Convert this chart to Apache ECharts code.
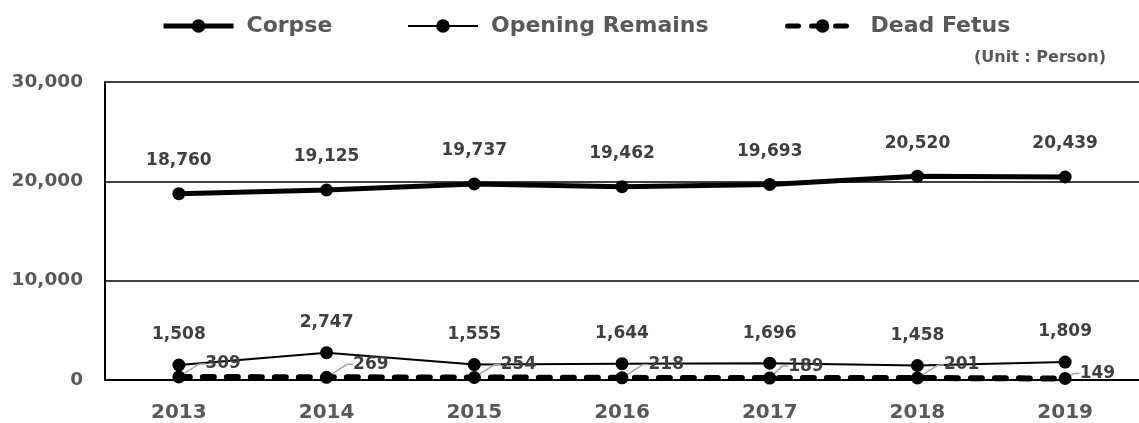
<!DOCTYPE html>
<html><head><meta charset="utf-8">
<script src="https://cdn.jsdelivr.net/npm/echarts@6/dist/echarts.min.js"></script>
<style>html,body{margin:0;padding:0;background:#fff}#c{width:1139px;height:423px}</style>
</head><body><div id="c"></div>
<script>
const years = ['2013','2014','2015','2016','2017','2018','2019'];
const corpse = [18760,19125,19737,19462,19693,20520,20439];
const opening = [1508,2747,1555,1644,1696,1458,1809];
const fetus = [309,269,254,218,189,201,149];
const yTicks = [0,10000,20000,30000];

const FONT = '"DejaVu Sans",sans-serif';
const fmt = v => v.toLocaleString('en-US');
const chart = echarts.init(document.getElementById('c'));
const lblTop = {show:true, position:'top', distance:18, color:'#404040', fontFamily:FONT, fontWeight:'bold', fontSize:17, formatter:p=>fmt(p.value)};
function lg(name, left, width) {
  return {data:[name], left:left, top:10, itemWidth:70, itemHeight:17, itemGap:10,
    lineStyle:{width:width},
    textStyle:{color:'#595959', fontFamily:FONT, fontWeight:'bold', fontSize:22, padding:[0,0,0,8]}};
}
chart.setOption({
  animation:false,
  legend:[ lg('Corpse',156,5), lg('Opening Remains',402,2), lg('Dead Fetus',780,5) ],
  graphic:[{type:'text', right:33, top:50, style:{text:'(Unit : Person)', fill:'#595959', font:'bold 16px '+FONT}}],
  grid:{left:105, right:-13, top:82, bottom:42},
  xAxis:{type:'category', data:years, boundaryGap:true,
    axisLine:{lineStyle:{color:'#000', width:2}}, axisTick:{show:false},
    axisLabel:{color:'#595959', fontFamily:FONT, fontWeight:'bold', fontSize:20, margin:23}},
  yAxis:{type:'value', min:yTicks[0], max:yTicks[yTicks.length-1], interval:yTicks[1]-yTicks[0],
    axisLine:{show:true, lineStyle:{color:'#000', width:2}}, axisTick:{show:false},
    splitLine:{lineStyle:{color:'#000', width:1.5}},
    axisLabel:{color:'#595959', fontFamily:FONT, fontWeight:'bold', fontSize:18.5, margin:22, formatter:v=>fmt(v)}},
  series:[
    {name:'Corpse', type:'line', data:corpse, symbol:'circle', symbolSize:13,
      itemStyle:{color:'#000'}, lineStyle:{color:'#000', width:5}, label:lblTop, z:3},
    {name:'Opening Remains', type:'line', data:opening, symbol:'circle', symbolSize:13,
      itemStyle:{color:'#000'}, lineStyle:{color:'#000', width:2}, label:Object.assign({}, lblTop, {distance:15}), z:3},
    {name:'Dead Fetus', type:'line', data:fetus, symbol:'circle', symbolSize:13,
      itemStyle:{color:'#000'}, lineStyle:{color:'#000', width:6, type:[11,13], cap:'round'},
      label:{show:true, position:'right', distance:6, color:'#404040', fontFamily:FONT, fontWeight:'bold', fontSize:17, formatter:p=>fmt(p.value)},
      labelLayout:function(p){
        if (p.dataIndex === 6) return {dx:2, dy:-5};
        if (p.dataIndex === 4) return {dx:6, dy:-12};
        return {dx:14, dy:-13};
      },
      labelLine:{show:true, length2:6, lineStyle:{color:'#a6a6a6', width:1.5}}, z:4}
  ]
});
</script></body></html>
